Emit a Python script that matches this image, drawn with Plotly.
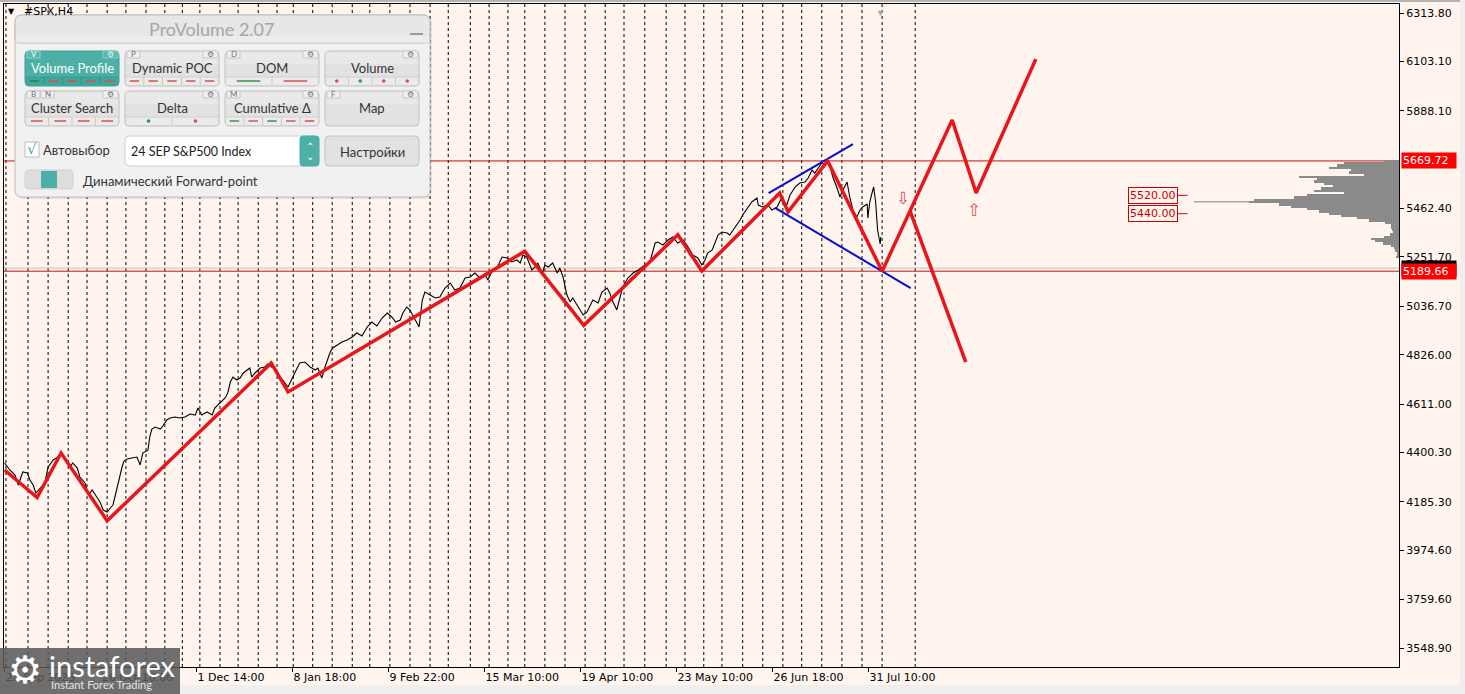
import plotly.graph_objects as go

# ------------------------------------------------------------------ data
# H4 bar index (0 = 22 Sep 2023) and close price of #SPX
bar_index = [0, 8, 16, 21, 28, 35, 39, 44, 48, 55, 62, 67, 75, 82, 88, 96, 101, 105, 112, 116,
             124, 129, 135, 142, 147, 152, 158, 163, 167, 170, 175, 181, 184, 189, 196, 204, 209,
             213, 221, 224, 227, 232, 240, 244, 250, 255, 263, 270, 278, 286, 294, 298, 304, 312,
             320, 324, 332, 340, 344, 348, 352, 358, 363, 368, 374, 378, 381, 386, 394, 401, 406,
             414, 422, 429, 437, 443, 448, 455, 463, 471, 479, 483, 489, 494, 499, 502, 506, 514,
             520, 528, 536, 543, 551, 559, 566, 574, 582, 590, 597, 603, 610, 614, 620, 625, 633,
             639, 644, 648, 656, 664, 671, 679, 687, 694, 702, 710, 718, 725, 733, 741, 745, 751,
             759, 767, 775, 782, 790, 795, 799, 805, 813, 818, 822, 829, 833, 838, 845, 852, 856,
             861, 867, 872, 876, 883, 887, 892, 898, 903, 907, 915, 921, 929, 933, 938, 944, 949,
             953, 961, 969, 977, 987, 995, 1003, 1007, 1015, 1023, 1030, 1038, 1046, 1052, 1057,
             1061, 1069, 1075, 1080, 1084, 1091, 1095, 1100, 1106, 1114, 1118, 1126, 1134, 1138,
             1145, 1152, 1160, 1162, 1169, 1177, 1183, 1191, 1198, 1206, 1211, 1219, 1226, 1234,
             1239, 1245, 1249, 1254, 1260, 1265, 1268, 1273, 1277, 1283, 1288, 1291, 1296, 1299,
             1303, 1308, 1314, 1319, 1323, 1330, 1331, 1334, 1337, 1340, 1343, 1345, 1346, 1350,
             1351]
close_price = [4354.5, 4324.0, 4302.3, 4258.7, 4315.3, 4311.0, 4280.5, 4258.7, 4223.9, 4245.6,
               4267.4, 4337.1, 4367.6, 4380.6, 4389.3, 4367.6, 4337.1, 4354.5, 4332.7, 4293.5,
               4267.4, 4215.2, 4236.9, 4206.5, 4184.7, 4149.9, 4141.2, 4158.6, 4171.7, 4206.5,
               4271.8, 4337.1, 4363.2, 4371.9, 4376.3, 4380.6, 4345.8, 4398.0, 4411.1, 4472.0,
               4502.5, 4511.2, 4502.5, 4515.6, 4541.7, 4550.4, 4554.8, 4550.4, 4554.8, 4567.8,
               4563.5, 4594.0, 4563.5, 4576.6, 4563.5, 4594.0, 4615.7, 4637.5, 4659.3, 4707.2,
               4728.9, 4715.9, 4724.6, 4746.4, 4759.4, 4768.1, 4728.9, 4746.4, 4768.1, 4772.5,
               4785.5, 4768.1, 4737.6, 4715.9, 4685.4, 4724.6, 4750.7, 4789.9, 4794.3, 4772.5,
               4759.4, 4768.1, 4724.6, 4772.5, 4811.7, 4837.8, 4855.2, 4868.3, 4881.3, 4890.0,
               4903.1, 4920.5, 4907.5, 4946.6, 4968.4, 4951.0, 4985.8, 5007.6, 4990.2, 4968.4,
               4977.1, 5007.6, 5033.7, 5020.7, 4977.1, 4946.6, 5064.2, 5099.0, 5086.0, 5072.9,
               5077.3, 5116.4, 5138.2, 5107.7, 5116.4, 5160.0, 5164.5, 5181.8, 5160.0, 5173.1,
               5151.3, 5186.1, 5203.5, 5251.4, 5247.1, 5229.7, 5238.4, 5225.3, 5260.1, 5251.4,
               5194.8, 5207.9, 5225.3, 5181.8, 5216.6, 5207.9, 5225.3, 5181.8, 5203.5, 5164.5,
               5086.0, 5055.5, 5072.9, 5042.4, 5020.7, 4998.9, 5012.0, 5042.4, 5064.2, 5051.1,
               5099.0, 5116.4, 5094.7, 5055.5, 5020.7, 5077.3, 5120.8, 5160.0, 5181.8, 5194.8,
               5216.6, 5229.7, 5312.4, 5316.7, 5303.7, 5325.4, 5338.5, 5312.4, 5325.4, 5303.7,
               5281.9, 5260.1, 5247.1, 5216.6, 5238.4, 5268.8, 5281.9, 5312.4, 5347.2, 5360.3,
               5355.9, 5347.2, 5377.7, 5412.5, 5434.3, 5464.8, 5490.9, 5508.3, 5477.8, 5469.1,
               5477.8, 5456.1, 5469.1, 5508.3, 5477.8, 5521.4, 5556.2, 5573.6, 5578.0, 5595.4,
               5630.2, 5617.2, 5638.9, 5660.7, 5652.0, 5665.1, 5643.3, 5599.8, 5556.2, 5512.7,
               5534.4, 5564.9, 5578.0, 5512.7, 5456.1, 5425.6, 5456.1, 5469.1, 5482.2, 5421.2,
               5490.9, 5525.7, 5556.2, 5490.9, 5412.5, 5369.0, 5308.0, 5338.5]

# red zig-zag (history + forecast) and the alternative forecast branch
zigzag_bar = [0, 50, 87, 158, 411, 437, 802, 893, 1038, 1075, 1195, 1208, 1269, 1353, 1461, 1498, 1590]
zigzag_price = [4324, 4204, 4398, 4103, 4790, 4664, 5276, 4954, 5348, 5191, 5530, 5448,
                5669.72, 5189.66, 5848, 5530, 6113]
branch_bar = [1396, 1482]
branch_price = [5452, 4794]

# blue channel lines
channel_upper_bar = [1178, 1308]
channel_upper_price = [5530, 5743]
channel_lower_bar = [1188, 1397]
channel_lower_price = [5465, 5116]

# horizontal levels
level_prices = [5669.72, 5189.66]
bid_price = 5203.50
target_prices = [5520.00, 5440.00]
target_bar = 1809
down_arrow = (1385, 5508)
up_arrow = (1495, 5456)
last_bar = 1351

# weekly period separators (bar index)
separator_bars = [2, 36, 67, 98, 127, 158, 187, 218, 247, 274, 301, 332, 360, 391, 420, 445, 475,
                  505, 536, 563, 594, 625, 656, 684, 718, 747, 776, 802, 833, 864, 895, 926, 955,
                  987, 1020, 1049, 1078, 1106, 1138, 1169, 1200, 1229, 1260, 1291, 1322, 1353, 1404]

# axis ticks
xtick_bars = [0, 148, 296, 444, 592, 740, 888, 1036, 1184, 1332]
xtick_labels = ["22 Sep 2023", "26 Oct 18:00", "1 Dec 14:00", "8 Jan 18:00", "9 Feb 22:00",
                "15 Mar 10:00", "19 Apr 10:00", "23 May 10:00", "26 Jun 18:00", "31 Jul 10:00"]
ytick_values = [6313.80, 6103.10, 5888.10, 5462.40, 5251.70, 5036.70, 4826.00, 4611.00,
                4400.30, 4185.30, 3974.60, 3759.60, 3548.90]

# volume profile (price level, relative volume)
profile_price = [5670, 5660, 5650, 5640, 5630, 5620, 5610, 5600, 5590, 5580, 5570, 5560, 5550,
                 5540, 5530, 5520, 5510, 5500, 5490, 5480, 5470, 5460, 5450, 5440, 5430, 5420,
                 5410, 5400, 5390, 5380, 5370, 5360, 5350, 5340, 5330, 5320, 5310, 5300, 5290,
                 5280, 5270, 5260, 5250]
profile_volume = [15, 55, 62, 70, 48, 50, 35, 100, 82, 85, 75, 66, 78, 85, 55, 92, 105, 145, 150,
                  120, 108, 92, 80, 70, 58, 42, 30, 14, 8, 8, 7, 6, 9, 15, 28, 24, 16, 8, 5, 4,
                  2, 2, 3]
poc_tail_price = 5492
poc_tail_volume = 205

# ------------------------------------------------------------------ geometry / style
W, H = 1465, 694
ML, MR, MT, MB = 4, 66, 4, 27
PW, PH = W - ML - MR, H - MT - MB
X_RANGE = [-1, 2150]
Y_RANGE = [3466.3, 6353.0]
BG = "#FFF5EE"
AXIS_FONT = "DejaVu Sans"
PANEL_FONT = "Lato, Open Sans, Noto Sans, sans-serif"
TEAL = "#4DB0A6"
RED = "#E8161B"


def px(x):
    return (x - ML) / PW


def py(y):
    return (H - MB - y) / PH


def rrect(x0, y0, x1, y1, r):
    X, Y = px, py
    return (f"M {X(x0 + r)},{Y(y0)} L {X(x1 - r)},{Y(y0)} Q {X(x1)},{Y(y0)} {X(x1)},{Y(y0 + r)} "
            f"L {X(x1)},{Y(y1 - r)} Q {X(x1)},{Y(y1)} {X(x1 - r)},{Y(y1)} "
            f"L {X(x0 + r)},{Y(y1)} Q {X(x0)},{Y(y1)} {X(x0)},{Y(y1 - r)} "
            f"L {X(x0)},{Y(y0 + r)} Q {X(x0)},{Y(y0)} {X(x0 + r)},{Y(y0)} Z")


shapes = []
annotations = []


def add_rr(x0, y0, x1, y1, r, fill, line="#C4C4C4", lw=1):
    shapes.append(dict(type="path", path=rrect(x0, y0, x1, y1, r), xref="paper", yref="paper",
                       fillcolor=fill, line=dict(color=line, width=lw), layer="above"))


def add_rect(x0, y0, x1, y1, fill, line=None, lw=0):
    shapes.append(dict(type="rect", x0=px(x0), x1=px(x1), y0=py(y1), y1=py(y0), xref="paper",
                       yref="paper", fillcolor=fill,
                       line=dict(color=line or fill, width=lw), layer="above"))


def add_line(x0, y0, x1, y1, color, lw=1):
    shapes.append(dict(type="line", x0=px(x0), x1=px(x1), y0=py(y0), y1=py(y1), xref="paper",
                       yref="paper", line=dict(color=color, width=lw), layer="above"))


def add_dot(x, y, r, color):
    shapes.append(dict(type="circle", x0=px(x - r), x1=px(x + r), y0=py(y + r), y1=py(y - r),
                       xref="paper", yref="paper", fillcolor=color, line=dict(width=0),
                       layer="above"))


def txt(x, y, s, size=12, color="#222222", anchor="center", family=PANEL_FONT, **kw):
    annotations.append(dict(x=px(x), y=py(y), xref="paper", yref="paper", text=s,
                            showarrow=False, xanchor=anchor, yanchor="middle",
                            font=dict(size=size, color=color, family=family), **kw))


# ------------------------------------------------------------------ figure / traces
fig = go.Figure()
fig.add_trace(go.Bar(y=profile_price, x=profile_volume, orientation="h", xaxis="x2", yaxis="y",
                     width=10, marker=dict(color="#8A8A8A", line=dict(width=0)),
                     hoverinfo="skip"))
fig.add_trace(go.Scatter(x=bar_index, y=close_price, mode="lines",
                         line=dict(color="black", width=1.1), hoverinfo="skip"))
for bx, by in ((channel_upper_bar, channel_upper_price), (channel_lower_bar, channel_lower_price)):
    fig.add_trace(go.Scatter(x=bx, y=by, mode="lines", line=dict(color="#0010D0", width=2),
                             hoverinfo="skip"))
fig.add_trace(go.Scatter(x=zigzag_bar, y=zigzag_price, mode="lines",
                         line=dict(color=RED, width=3.5), hoverinfo="skip"))
fig.add_trace(go.Scatter(x=branch_bar, y=branch_price, mode="lines",
                         line=dict(color=RED, width=3.5), hoverinfo="skip"))

# separators
for b in separator_bars:
    shapes.append(dict(type="line", x0=b, x1=b, xref="x", y0=0, y1=1, yref="paper",
                       line=dict(color="black", width=1, dash="3px,3px"), layer="below"))
# levels
shapes.append(dict(type="line", x0=0, x1=1, xref="paper", y0=bid_price, y1=bid_price, yref="y",
                   line=dict(color="#C0C0C0", width=1), layer="below"))
for lv in level_prices:
    shapes.append(dict(type="line", x0=0, x1=1, xref="paper", y0=lv, y1=lv, yref="y",
                       line=dict(color="#C81010", width=1), layer="below"))
shapes.append(dict(type="line", x0=0, x1=poc_tail_volume, xref="x2", y0=poc_tail_price,
                   y1=poc_tail_price, yref="y", line=dict(color="#A8A8A8", width=1.5),
                   layer="below"))
for tp in target_prices:
    shapes.append(dict(type="line", x0=target_bar, x1=target_bar + 15, xref="x", y0=tp, y1=tp,
                       yref="y", line=dict(color="#CC0000", width=1), layer="above"))
    annotations.append(dict(x=target_bar, y=tp, xref="x", yref="y", text=f"{tp:.2f}",
                            showarrow=False, xanchor="right", yanchor="middle",
                            bgcolor=BG, bordercolor="#CC0000", borderwidth=1, borderpad=1,
                            font=dict(family=AXIS_FONT, size=11, color="#CC0000")))
annotations.append(dict(x=down_arrow[0], y=down_arrow[1], xref="x", yref="y", text="⇩",
                        showarrow=False, font=dict(family=AXIS_FONT, size=17, color="#E05050")))
annotations.append(dict(x=up_arrow[0], y=up_arrow[1], xref="x", yref="y", text="⇧",
                        showarrow=False, font=dict(family=AXIS_FONT, size=17, color="#E05050")))
annotations.append(dict(x=last_bar, y=1.0, xref="x", yref="paper", text="▼", showarrow=False,
                        yanchor="top", font=dict(size=9, color="#A8A8A8")))

# price labels on the right scale
annotations.append(dict(x=1.0, y=bid_price, xref="paper", yref="y", text=f"{bid_price:.2f}",
                        showarrow=False, xanchor="left", xshift=2, bgcolor="black", width=52,
                        align="left", borderpad=1,
                        font=dict(family=AXIS_FONT, size=11, color="white")))
for lv in level_prices:
    annotations.append(dict(x=1.0, y=lv, xref="paper", yref="y", text=f"{lv:.2f}",
                            showarrow=False, xanchor="left", xshift=2, bgcolor="#FF0000",
                            width=52, align="left", borderpad=1,
                            font=dict(family=AXIS_FONT, size=11, color="white")))

# chart symbol (partly hidden by the panel)
txt(6, 12, "▼", size=8, color="black", anchor="left", family=AXIS_FONT)
txt(22, 12, "#SPX,H4", size=11, color="black", anchor="left", family=AXIS_FONT)

# ------------------------------------------------------------------ ProVolume panel
add_rr(17, 17, 432, 199, 7, "rgba(0,0,0,0.08)", line="rgba(0,0,0,0)")
add_rr(15, 15, 430, 197, 7, "#F1F1F1", line="#BDBDBD")
add_rr(15, 15, 430, 43, 7, "#E7E7E7", line="#BDBDBD")
add_rect(16, 36, 429, 43, "#ECECEC")
add_line(16, 43, 429, 43, "#D2D2D2")
annotations.append(dict(x=px(55), y=py(19), xref="paper", yref="paper", text=" ", width=70,
                        height=6, bgcolor="#E7E7E7", showarrow=False, borderpad=0))
txt(212, 29, "ProVolume 2.07", size=18, color="#A6A6A6")
add_line(410, 34, 423, 34, "#9A9A9A", lw=2)

RC, GC = "#D45050", "#3E9050"
buttons = [
    (25, 51, 119, 86, "Volume Profile", ["V"], "segs", [GC, RC, RC, RC, RC], True),
    (125, 51, 219, 86, "Dynamic POC", ["P"], "segs", [RC] * 5, False),
    (225, 51, 319, 86, "DOM", ["D"], "segs", [GC, RC], False),
    (325, 51, 419, 86, "Volume", [], "dots", [RC, GC, RC, RC], False),
    (25, 91, 119, 126, "Cluster Search", ["B", "N"], "segs", [RC] * 4, False),
    (125, 91, 219, 126, "Delta", [], "dots", [GC, RC], False),
    (225, 91, 319, 126, "Cumulative Δ", ["M"], "segs", [GC, RC, GC, RC, RC], False),
    (325, 91, 419, 126, "Map", ["F"], None, [], False),
]
for x0, y0, x1, y1, label, tabs, kind, cols, active in buttons:
    body = TEAL if active else "#E2E2E2"
    add_rr(x0, y0, x1, y1, 4, body, line="#3F9E95" if active else "#C2C2C2")
    if not active:
        add_rect(x0 + 1, y0 + 1, x1 - 1, y0 + 13, "#E9E9E9")
    if kind:
        sy0, sy1 = y1 - 9, y1 - 1
        add_rect(x0 + 1, sy0, x1 - 1, sy1, "#3FA69B" if active else "#EBEBEB")
        add_line(x0 + 1, sy0, x1 - 1, sy0, "#3A9A90" if active else "#D0D0D0")
        n = len(cols)
        w = (x1 - x0) / n
        for i, c in enumerate(cols):
            sx = x0 + i * w
            if i > 0:
                add_line(sx, sy0, sx, sy1, "#36968C" if active else "#CACACA")
            if kind == "segs":
                add_line(sx + w * 0.25, (sy0 + sy1) / 2, sx + w * 0.75, (sy0 + sy1) / 2,
                         "#2E7D40" if (active and c == GC) else c, lw=1.5)
            else:
                add_dot(sx + w / 2, (sy0 + sy1) / 2, 1.8, c)
    for j, t in enumerate(tabs):
        tx0 = x0 + 2 + j * 14
        add_rect(tx0, y0, tx0 + 13, y0 + 7, "#5BBAB0" if active else "#F0F0F0",
                 line="#8CCFC7" if active else "#C6C6C6", lw=1)
        txt(tx0 + 6.5, y0 + 3.5, t, size=8, color="white" if active else "#707070")
    add_rect(x1 - 16, y0, x1 - 1, y0 + 7, "#5BBAB0" if active else "#F0F0F0",
             line="#8CCFC7" if active else "#C6C6C6", lw=1)
    txt(x1 - 8.5, y0 + 3.5, "⚙", size=8, color="#E8F6F4" if active else "#707070",
        family=AXIS_FONT)
    ty = 108 if y0 > 60 else 68
    txt((x0 + x1) / 2, ty, label, size=13, color="white" if active else "#333333")

# checkbox, combo, settings button, toggle
add_rect(25, 142, 39, 157, "white", line="#BDBDBD", lw=1)
txt(32, 149, "√", size=15, color=TEAL, family=AXIS_FONT)
txt(41, 150, "Автовыбор", size=13, color="#333333", anchor="left")
add_rr(125, 136, 319, 166, 4, "white", line="#D0D0D0")
add_rr(300, 136, 319, 166, 3, TEAL, line=TEAL)
txt(309.5, 146, "⌃", size=10, color="white", family=AXIS_FONT)
txt(309.5, 157, "⌄", size=10, color="white", family=AXIS_FONT)
txt(129, 151, "24 SEP S&amp;P500 Index", size=12.5, color="#222222", anchor="left")
add_rr(325, 136, 419, 166, 4, "#E2E2E2", line="#C2C2C2")
txt(372, 152, "Настройки", size=13, color="#333333")
add_rr(25, 170, 73, 189, 4, "#DDDDDD", line="#CFCFCF")
add_rect(41, 171, 57, 188, TEAL)
txt(81, 181, "Динамический Forward-point", size=13, color="#333333", anchor="left")

# ------------------------------------------------------------------ window chrome
add_rect(-10, -5, W + 5, 2, "#B4B4B4")
add_rect(1460, -5, W + 5, H + 5, "#EFEFEF")
add_rect(-10, 685, W + 5, H + 5, "#EFEFEF")

# instaforex watermark
add_rect(-10, 648, 180, H + 5, "rgba(88,88,88,0.86)")
txt(25, 670, "⚙", size=38, color="white", family=AXIS_FONT)
txt(47, 665, "instaforex", size=29, color="white", anchor="left",
    family="Lato, Open Sans, sans-serif")
txt(49, 685, "Instant Forex Trading", size=11, color="#E6E6E6", anchor="left",
    family="Lato, Open Sans, sans-serif")

# ------------------------------------------------------------------ layout
tickfont = dict(family=AXIS_FONT, size=11, color="black")
fig.update_layout(
    width=W, height=H, margin=dict(l=ML, r=MR, t=MT, b=MB, pad=0),
    paper_bgcolor=BG, plot_bgcolor=BG, showlegend=False, bargap=0, hovermode=False,
    xaxis=dict(range=X_RANGE, showgrid=False, zeroline=False, tickmode="array",
               tickvals=xtick_bars, ticktext=xtick_labels, ticks="outside", ticklen=4,
               tickcolor="black", showline=True, linecolor="black", linewidth=1, mirror=True,
               ticklabelposition="outside right", tickfont=tickfont),
    xaxis2=dict(overlaying="x", range=[PW, 0], visible=False),
    yaxis=dict(range=Y_RANGE, side="right", showgrid=False, zeroline=False, tickmode="array",
               tickvals=ytick_values, ticktext=[f"{v:.2f}" for v in ytick_values],
               ticks="outside", ticklen=4, tickcolor="black", showline=True,
               linecolor="black", linewidth=1, mirror=True, tickfont=tickfont),
    shapes=shapes, annotations=annotations,
)
fig.write_html("out.html", config={"displayModeBar": False},
               post_script="document.body.style.margin='0';document.body.style.overflow='hidden';")
